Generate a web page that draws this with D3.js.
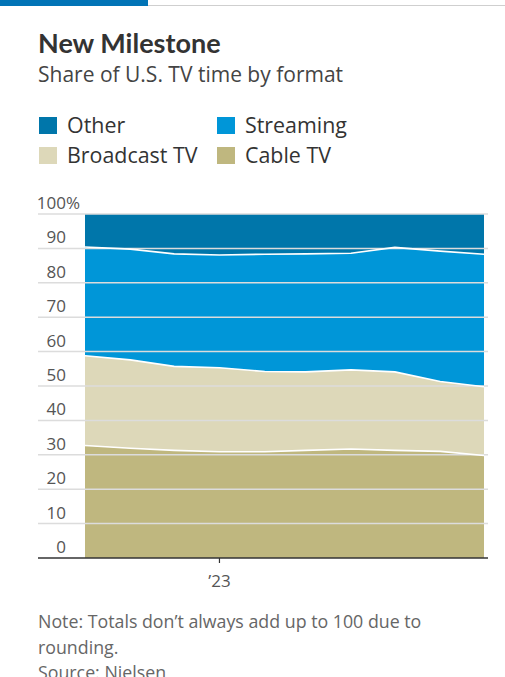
<!DOCTYPE html>
<html>
<head>
<meta charset="utf-8">
<script src="https://cdn.jsdelivr.net/npm/d3@7"></script>
<style>
  body { margin: 0; background: #fff; }
  svg text { font-family: "Open Sans", "Noto Sans", sans-serif; }
  svg text.title { font-family: Lato, sans-serif; }
</style>
</head>
<body>
<div id="chart"></div>
<script>
// data (share of TV time, %)
var months    = ["2022-10", "2022-11", "2022-12", "2023-01", "2023-02", "2023-03", "2023-04", "2023-05", "2023-06", "2023-07"];
var cable     = [32.7, 31.9, 31.3, 30.9, 30.9, 31.3, 31.7, 31.3, 31.0, 29.8];
var broadcast = [26.1, 25.7, 24.4, 24.4, 23.3, 22.8, 23.0, 22.8, 20.3, 20.0];
var streaming = [31.6, 32.2, 32.7, 32.8, 34.1, 34.3, 33.9, 36.2, 37.9, 38.5];
var other     = [9.6, 10.2, 11.6, 11.9, 11.7, 11.6, 11.4, 9.7, 10.8, 11.7];
var yTicks    = [0, 10, 20, 30, 40, 50, 60, 70, 80, 90, 100];
var xTickDates = ["2023-01"];
var xTickLabels = ["\u201923"];

var keys   = ["cable", "broadcast", "streaming", "other"];
var colors = { cable: "#bfb77f", broadcast: "#ddd8b9", streaming: "#0096d8", other: "#0076aa" };
var legend = [
  { key: "other", label: "Other" }, { key: "streaming", label: "Streaming" },
  { key: "broadcast", label: "Broadcast TV" }, { key: "cable", label: "Cable TV" }
];

var W = 505, H = 677;
var parse = d3.timeParse("%Y-%m");
var rows = months.map(function(m, i) {
  return { date: parse(m), cable: cable[i], broadcast: broadcast[i], streaming: streaming[i], other: other[i] };
});

var svg = d3.select("#chart").append("svg").attr("width", W).attr("height", H);

// top rule
svg.append("rect").attr("x", 0).attr("y", 5).attr("width", W).attr("height", 1).attr("fill", "#cfcfcf");
svg.append("rect").attr("x", 0).attr("y", 0).attr("width", 148).attr("height", 6).attr("fill", "#0274b6");

// heading
svg.append("text").attr("class", "title").attr("x", 38).attr("y", 53).text("New Milestone")
   .attr("font-size", 27).attr("font-weight", 700).attr("fill", "#333");
svg.append("text").attr("x", 38).attr("y", 82).text("Share of U.S. TV time by format")
   .attr("font-size", 21).attr("fill", "#444");

// legend
legend.forEach(function(d, i) {
  var lx = 39 + (i % 2) * 178, ly = 117 + Math.floor(i / 2) * 30;
  svg.append("rect").attr("x", lx).attr("y", ly).attr("width", 18).attr("height", 17)
     .attr("fill", colors[d.key]);
  svg.append("text").attr("x", lx + 28).attr("y", ly + 16).text(d.label)
     .attr("font-size", 21.4).attr("fill", "#333");
});

var x = d3.scaleTime().domain(d3.extent(rows, function(d) { return d.date; })).range([85, 484]);
var y = d3.scaleLinear().domain([0, 100]).range([558, 214]);

var series = d3.stack().keys(keys)(rows);

var area = d3.area()
  .x(function(d) { return x(d.data.date); })
  .y0(function(d) { return y(d[0]); })
  .y1(function(d) { return y(d[1]); });

svg.append("g").selectAll("path").data(series).join("path")
   .attr("d", area).attr("fill", function(d) { return colors[d.key]; });

// gridlines over the areas
var grid = svg.append("g");
grid.selectAll("line").data(yTicks.slice(1)).join("line")
    .attr("x1", 38).attr("x2", 488)
    .attr("y1", function(d) { return y(d); }).attr("y2", function(d) { return y(d); })
    .attr("stroke", "#dcdcdc").attr("stroke-width", 1.5);

// white separator lines between layers
var line = d3.line()
  .x(function(d) { return x(d.data.date); })
  .y(function(d) { return y(d[1]); });
svg.append("g").selectAll("path").data(series.slice(0, 3)).join("path")
   .attr("d", line).attr("fill", "none").attr("stroke", "#fff").attr("stroke-width", 1.6);

// y labels
svg.append("g").selectAll("text").data(yTicks).join("text")
   .attr("x", 66).attr("y", function(d) { return y(d) - 5; })
   .attr("text-anchor", "end").attr("font-size", 17).attr("fill", "#555")
   .text(function(d) { return d; });
svg.append("text").attr("x", 66).attr("y", y(100) - 5).attr("font-size", 17).attr("fill", "#555").text("%");

// baseline and x axis
svg.append("line").attr("x1", 38).attr("x2", 488).attr("y1", y(0)).attr("y2", y(0))
   .attr("stroke", "#333").attr("stroke-width", 1.5);
var xt = svg.append("g").selectAll("g").data(xTickDates).join("g")
   .attr("transform", function(d) { return "translate(" + x(parse(d)) + ",0)"; });
xt.append("line").attr("y1", y(0)).attr("y2", y(0) + 5).attr("stroke", "#333").attr("stroke-width", 1.2);
xt.append("text").attr("y", 587).attr("text-anchor", "middle").attr("font-size", 17).attr("fill", "#555")
  .text(function(d, i) { return xTickLabels[i]; });

// notes
var notes = ["Note: Totals don\u2019t always add up to 100 due to", "rounding.", "Source: Nielsen"];
svg.append("g").selectAll("text").data(notes).join("text")
   .attr("x", 38).attr("y", function(d, i) { return 628 + i * 25.5; })
   .attr("font-size", 17.8).attr("fill", "#666").text(function(d) { return d; });
</script>
</body>
</html>
